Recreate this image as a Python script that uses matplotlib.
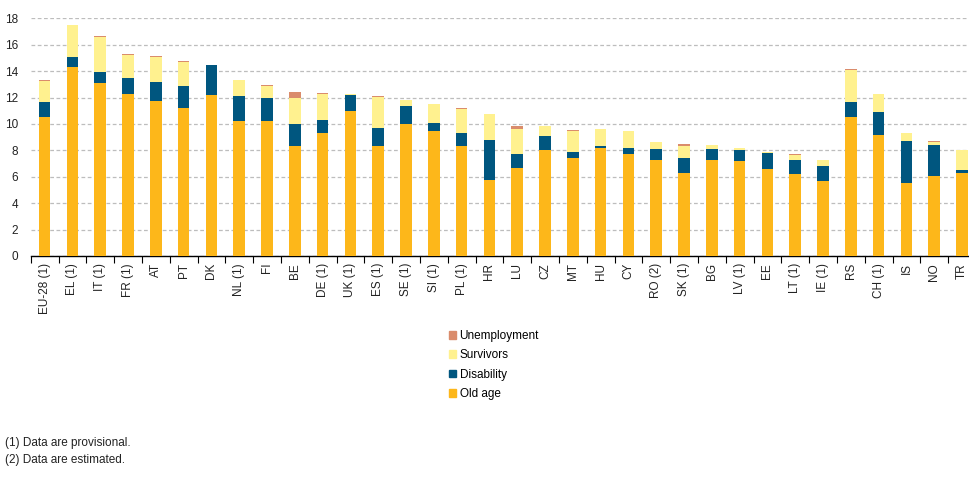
import matplotlib
matplotlib.use("Agg")
import matplotlib.pyplot as plt
from matplotlib.patches import Patch
import numpy as np

plt.rcParams['font.family'] = ['Liberation Sans', 'DejaVu Sans']

countries = ["EU-28 (1)", "EL (1)", "IT (1)", "FR (1)", "AT", "PT", "DK", "NL (1)", "FI", "BE",
             "DE (1)", "UK (1)", "ES (1)", "SE (1)", "SI (1)", "PL (1)", "HR", "LU", "CZ", "MT",
             "HU", "CY", "RO (2)", "SK (1)", "BG", "LV (1)", "EE", "LT (1)", "IE (1)", "RS",
             "CH (1)", "IS", "NO", "TR"]

old_age = [10.5, 14.3, 13.1, 12.3, 11.7, 11.2, 12.2, 10.2, 10.2, 8.35,
           9.3, 11.0, 8.35, 10.0, 9.45, 8.35, 5.75, 6.65, 8.05, 7.4,
           8.2, 7.75, 7.25, 6.3, 7.25, 7.2, 6.6, 6.2, 5.7, 10.5,
           9.15, 5.5, 6.05, 6.3]
disability = [1.15, 0.75, 0.85, 1.15, 1.45, 1.65, 2.25, 1.9, 1.75, 1.65,
              1.0, 1.2, 1.35, 1.35, 0.6, 1.0, 3.0, 1.05, 1.05, 0.45,
              0.15, 0.4, 0.85, 1.15, 0.85, 0.8, 1.2, 1.05, 1.15, 1.15,
              1.75, 3.2, 2.35, 0.22]
survivors = [1.6, 2.45, 2.65, 1.75, 1.9, 1.85, 0.0, 1.2, 0.9, 1.95,
             1.95, 0.07, 2.35, 0.45, 1.45, 1.75, 2.0, 1.9, 0.75, 1.65,
             1.3, 1.3, 0.5, 0.9, 0.3, 0.15, 0.08, 0.4, 0.45, 2.4,
             1.35, 0.6, 0.23, 1.5]
unemployment = [0.08, 0.0, 0.07, 0.08, 0.07, 0.07, 0.0, 0.0, 0.07, 0.45,
                0.07, 0.0, 0.07, 0.0, 0.0, 0.07, 0.0, 0.23, 0.0, 0.07,
                0.0, 0.0, 0.0, 0.15, 0.0, 0.0, 0.0, 0.07, 0.0, 0.08,
                0.0, 0.0, 0.07, 0.0]

footnotes = ["(1) Data are provisional.", "(2) Data are estimated."]

c_old = "#FDB71A"
c_dis = "#00567F"
c_surv = "#FFF18F"
c_unemp = "#DA8C6C"

fig = plt.figure(figsize=(9.69, 4.97), dpi=100)
W, H = 969, 497
ax = fig.add_axes([30.7 / W, (H - 256) / H, 945.2 / W, (256 - 18.3) / H])

x = np.arange(len(countries))
old = np.array(old_age)
dis = np.array(disability)
surv = np.array(survivors)
une = np.array(unemployment)
bw = 0.42
ax.bar(x, old, bw, color=c_old, zorder=3)
ax.bar(x, dis, bw, bottom=old, color=c_dis, zorder=3)
ax.bar(x, surv, bw, bottom=old + dis, color=c_surv, zorder=3)
ax.bar(x, une, bw, bottom=old + dis + surv, color=c_unemp, zorder=3)

ax.set_xlim(-0.5, len(countries) - 0.5)
ax.set_ylim(0, 18)
ax.set_yticks(np.arange(0, 19, 2))
ax.yaxis.grid(True, color="#BDBDBD", linestyle=(0, (3, 2)), linewidth=0.9, zorder=0)
ax.tick_params(axis='y', length=0, pad=9, labelsize=8.5, colors="#222222")

ax.set_xticks(x)
ax.set_xticklabels(countries, rotation=90, fontsize=8.5, color="#222222")
ax.set_xticks(np.arange(-0.5, len(countries), 1), minor=True)
ax.tick_params(axis='x', which='major', length=0, pad=5)
ax.tick_params(axis='x', which='minor', length=5, width=0.8, color="black")

for s in ["top", "right", "left"]:
    ax.spines[s].set_visible(False)
ax.spines["bottom"].set_color("black")
ax.spines["bottom"].set_linewidth(1)

handles = [Patch(color=c_unemp), Patch(color=c_surv), Patch(color=c_dis), Patch(color=c_old)]
labels = ["Unemployment", "Survivors", "Disability", "Old age"]
fig.legend(handles, labels, loc="upper left", bbox_to_anchor=(449 / W, (H - 330) / H),
           frameon=False, fontsize=8.5, handlelength=0.6, handleheight=0.6,
           handletextpad=0.3, labelspacing=0.62, borderpad=0, borderaxespad=0)

fig.text(5 / W, (H - 443) / H, footnotes[0], fontsize=8.5, va="center", color="#222222")
fig.text(5 / W, (H - 460) / H, footnotes[1], fontsize=8.5, va="center", color="#222222")

fig.savefig("out.png", dpi=100)
